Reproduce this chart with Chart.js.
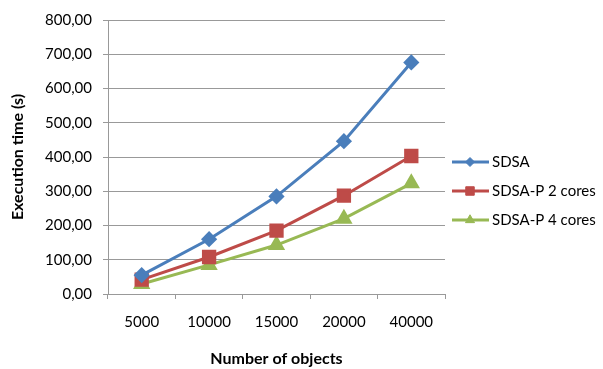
<!DOCTYPE html>
<html>
<head>
<meta charset="utf-8">
<script src="https://cdn.jsdelivr.net/npm/chart.js@4.4.0/dist/chart.umd.min.js"></script>
<style>
  html, body { margin: 0; padding: 0; background: #fff; }
  #wrap { width: 603px; height: 369px; }
</style>
</head>
<body>
<div id="wrap"><canvas id="timeChart" width="603" height="369"></canvas></div>
<script>
// data
const categories = ['5000', '10000', '15000', '20000', '40000'];
const sdsa = [55, 160, 285, 446, 676];
const sdsaP2 = [42, 108, 185, 287, 403];
const sdsaP4 = [29, 85, 143, 220, 323];
const seriesNames = ['SDSA', 'SDSA-P 2 cores', 'SDSA-P 4 cores'];

const FONT = 'Lato, "Open Sans", sans-serif';
const gridColor = '#999999';

// legend with line + marker, like the spreadsheet one
const lineLegend = {
    id: 'lineLegend',
    afterDraw(chart) {
        const c = chart.ctx;
        const x0 = chart.chartArea.right + 7;
        let y = 162;
        chart.data.datasets.forEach((ds) => {
            c.save();
            c.strokeStyle = ds.borderColor;
            c.fillStyle = ds.backgroundColor;
            c.lineWidth = ds.borderWidth;
            c.beginPath();
            c.moveTo(x0, y);
            c.lineTo(x0 + 37, y);
            c.stroke();
            c.lineWidth = 1;
            Chart.helpers.drawPoint(c, {
                pointStyle: ds.pointStyle,
                radius: ds.pointRadius * 0.75,
                borderWidth: 1
            }, x0 + 18, y);
            c.fillStyle = '#000';
            c.font = '15px ' + FONT;
            c.textBaseline = 'middle';
            c.fillText(ds.label, x0 + 40, y);
            c.restore();
            y += 29;
        });
    }
};

function dataset(label, data, color, style, radius) {
    return {
        label: label,
        data: data,
        borderColor: color,
        backgroundColor: color,
        pointBackgroundColor: color,
        pointBorderColor: color,
        borderWidth: 3,
        pointStyle: style,
        pointRadius: radius,
        tension: 0
    };
}

const ctx = document.getElementById('timeChart').getContext('2d');

const timeChart = new Chart(ctx, {
    type: 'line',
    data: {
        labels: categories,
        datasets: [
            dataset(seriesNames[0], sdsa, '#4A7EBB', 'rectRot', 6),
            dataset(seriesNames[1], sdsaP2, '#BE4B48', 'rect', 8),
            dataset(seriesNames[2], sdsaP4, '#98B954', 'triangle', 7)
        ]
    },
    plugins: [lineLegend],
    options: {
        responsive: false,
        animation: false,
        layout: { padding: { top: 18, right: 158, left: 0, bottom: 0 } },
        plugins: {
            legend: { display: false },
            tooltip: { enabled: false }
        },
        scales: {
            x: {
                offset: true,
                grid: {
                    offset: true,
                    drawOnChartArea: false,
                    color: gridColor,
                    tickLength: 5,
                    tickColor: gridColor
                },
                border: { color: gridColor },
                ticks: { color: '#000', padding: 14, font: { family: FONT, size: 15 }, maxRotation: 0 },
                title: {
                    display: true,
                    text: 'Number of objects',
                    color: '#000',
                    font: { family: FONT, size: 16, weight: 'bold' },
                    padding: { top: 0, bottom: 1 }
                },
                afterFit(scale) { scale.height = 75; }
            },
            y: {
                min: 0,
                max: 800,
                ticks: {
                    stepSize: 100,
                    color: '#000',
                    padding: 11,
                    font: { family: FONT, size: 15 },
                    callback: (v) => v.toFixed(2).replace('.', ',')
                },
                grid: { color: gridColor, tickLength: 5, tickColor: gridColor },
                border: { color: gridColor },
                title: {
                    display: true,
                    text: 'Execution time (s)',
                    color: '#000',
                    font: { family: FONT, size: 16, weight: 'bold' },
                    padding: { top: 8, bottom: 0 }
                },
                afterFit(scale) { scale.width = 108; }
            }
        }
    }
});
</script>
</body>
</html>
